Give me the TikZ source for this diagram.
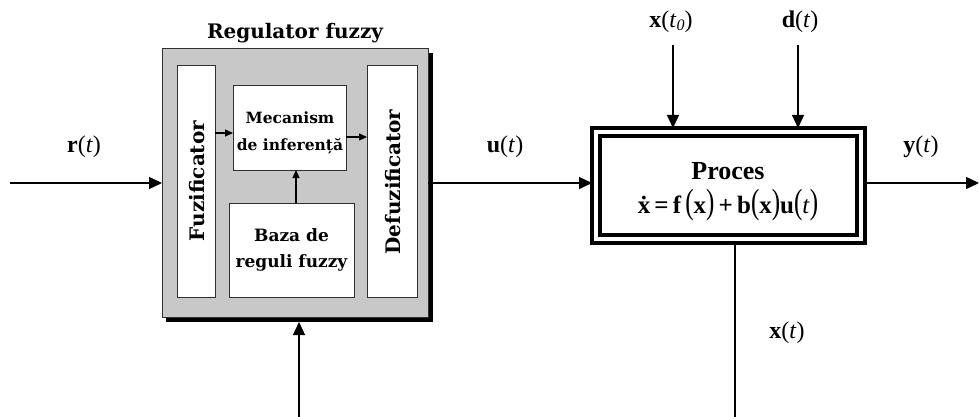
\documentclass[tikz,border=0pt]{standalone}
\usepackage{fontspec}
\setmainfont{Liberation Serif}
\newfontfamily\regfont{DejaVu Serif}
\usetikzlibrary{arrows.meta}
\definecolor{reggray}{HTML}{C8C8C8}
\definecolor{edgegray}{HTML}{303030}
\newcommand{\bigp}[1]{\scalebox{1}[1.4]{\fontseries{m}\selectfont #1}}
\begin{document}
\begin{tikzpicture}[x=1pt,y=-1pt,
  wire/.style={line width=1.3pt,-{Triangle[length=13pt,width=12pt]}},
  plain/.style={line width=1.3pt},
  iwire/.style={line width=1.2pt,-{Triangle[length=8pt,width=7pt]}},
  regbox/.style={draw=edgegray,line width=0.6pt,fill=reggray,inner sep=0pt,outer sep=0pt},
  inbox/.style={draw=edgegray,line width=0.8pt,fill=white,inner sep=0pt,outer sep=0pt},
  lab/.style={font=\fontsize{24}{26}\selectfont,inner sep=0pt},
  rtext/.style={font=\regfont\bfseries\fontsize{20}{22}\selectfont,inner sep=0pt,align=center},
]
\useasboundingbox (0,0) rectangle (979,417);
% regulator
\fill[black] (166,53) rectangle (433,322);
\node[regbox,minimum width=266pt,minimum height=269pt] (reg) at (295,182.5) {};
\node[font=\regfont\bfseries\fontsize{20}{22}\selectfont,inner sep=0pt] (regt) at (295,33) {Regulator fuzzy};
\node[inbox,minimum width=38pt,minimum height=232pt] (fuz) at (196,181) {};
\node[rtext,rotate=90] (fuzt) at (197,181) {Fuzificator};
\node[inbox,minimum width=50pt,minimum height=232pt] (def) at (392,181) {};
\node[rtext,rotate=90] (deft) at (393,182) {Defuzificator};
\node[inbox,minimum width=113pt,minimum height=85pt] (mec) at (289.5,127.5) {};
\node[rtext,font=\regfont\bfseries\fontsize{15.5}{27}\selectfont] (mect) at (290,133) {Mecanism\\de inferență};
\node[inbox,minimum width=125pt,minimum height=94pt] (baz) at (291.5,250) {};
\node[rtext,font=\regfont\bfseries\fontsize{17}{26}\selectfont] (bazt) at (291.5,250) {Baza de\\reguli fuzzy};
\draw[iwire] (fuz.east |- 0,133) -- (mec.west |- 0,133);
\draw[iwire] (mec.east |- 0,137) -- (def.west |- 0,137);
\draw[iwire] (baz.north -| 296,0) -- (mec.south -| 296,0);
% process
\node[draw,line width=4pt,minimum width=273pt,minimum height=115pt,inner sep=0pt,outer sep=0pt] (proc) at (728.5,185.5) {};
\node[draw,line width=4pt,minimum width=257pt,minimum height=99pt,inner sep=0pt] (proci) at (proc.center) {};
\node[font=\bfseries\fontsize{26}{28}\selectfont,inner sep=0pt] (proct) at (728,171) {Proces};
\node[font=\bfseries\fontsize{25}{27}\selectfont,inner sep=0pt] (proce) at (728,205) {ẋ\,=\,f\,\bigp{(}x\bigp{)}\,+\,b\bigp{(}x\bigp{)}u\bigp{(}\textit{\fontseries{m}\selectfont t}\bigp{)}};
% signals
\coordinate (rin) at (10,183);
\draw[wire] (rin) -- (reg.west |- rin);
\node[lab] (rl) at (84,147) {\textbf{r}(\textit{t})};
\draw[wire] (reg.east |- rin) -- (proc.west |- rin);
\node[lab] (ul) at (505,147) {\textbf{u}(\textit{t})};
\coordinate (yout) at (979,183);
\draw[wire] (proc.east |- rin) -- (yout);
\node[lab] (yl) at (921,147) {\textbf{y}(\textit{t})};
\coordinate (x0s) at (673,45);
\draw[wire] (x0s) -- (proc.north -| x0s);
\node[lab] (x0l) at (671,22) {\textbf{x}(\textit{t}\raisebox{-0.25ex}{\fontsize{16}{17}\selectfont\textit{0}})};
\coordinate (ds) at (798,45);
\draw[wire] (ds) -- (proc.north -| ds);
\node[lab] (dl) at (800,22) {\textbf{d}(\textit{t})};
\coordinate (xb) at (735,417);
\draw[plain] (proc.south -| xb) -- (xb);
\node[lab] (xl) at (787,333) {\textbf{x}(\textit{t})};
\coordinate (fb) at (299,417);
\draw[wire] (fb) -- (299,322);
\end{tikzpicture}
\end{document}
